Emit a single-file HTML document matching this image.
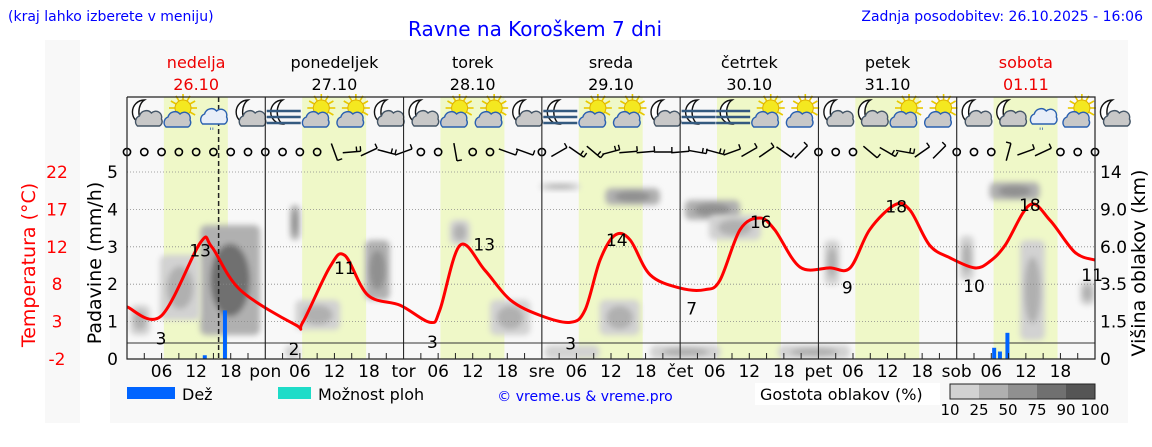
<!DOCTYPE html>
<html><head><meta charset="utf-8">
<style>
html,body{margin:0;padding:0;background:#fff;}
body{width:1152px;height:443px;overflow:hidden;font-family:"DejaVu Sans",sans-serif;}
svg text{font-family:"DejaVu Sans","Liberation Sans",sans-serif;}
</style></head>
<body>
<svg id="chart" width="1152" height="443" xmlns="http://www.w3.org/2000/svg">
<defs>
<filter id="blur" x="-50%" y="-50%" width="200%" height="200%"><feGaussianBlur stdDeviation="3"/></filter>
<clipPath id="plotclip"><rect x="127" y="160" width="968" height="199"/></clipPath>
</defs>
<rect x="45" y="40" width="35" height="383" fill="#f8f8f8"/>
<rect x="110" y="40" width="1018" height="383" fill="#f8f8f8"/>
<text x="8" y="21" font-size="14" fill="#0000ff">(kraj lahko izberete v meniju)</text>
<text x="535" y="36" font-size="20" fill="#0000ff" text-anchor="middle">Ravne na Koroškem 7 dni</text>
<text x="1143" y="21" font-size="14" fill="#0000ff" text-anchor="end">Zadnja posodobitev: 26.10.2025 - 16:06</text>
<g id="days"></g>
<g id="bands"></g>
<g id="clouds" clip-path="url(#plotclip)"></g>
<g id="grid"></g>
<g id="icons"></g>
<g id="wind"></g>
<g id="precip"></g>
<g id="temp"></g>
<g id="axes"></g>
<g id="legend">
<rect x="127" y="387" width="48" height="12" fill="#0064ff"/>
<text x="182" y="400" font-size="16" fill="#000">Dež</text>
<rect x="278" y="387" width="33" height="12" fill="#1edcc8"/>
<text x="318" y="400" font-size="16" fill="#000">Možnost ploh</text>
<text x="585" y="401" font-size="14" fill="#0000ff" text-anchor="middle">© vreme.us &amp; vreme.pro</text>
<rect x="755" y="383" width="185" height="22" fill="#fff"/>
<text x="760" y="400" font-size="16" fill="#000">Gostota oblakov (%)</text>
</g>
</svg>
<script>
// ---- data ----
const dayNames = ["nedelja","ponedeljek","torek","sreda","četrtek","petek","sobota"];
const dayDates = ["26.10","27.10","28.10","29.10","30.10","31.10","01.11"];
const dayAbbr = ["pon","tor","sre","čet","pet","sob"];
const tempHours = [0,5.9,12.7,14.7,19.6,29.2,30.5,35.2,37.8,41.8,47.4,52.6,54.3,57.8,62.1,66.5,71.7,76.9,79.5,82.1,84.7,87.3,90.8,96,100.3,102.9,106.4,109.8,112.4,116.8,122,125.5,128.9,133.3,135.9,139.3,142.8,147.1,149.7,152.4,156.7,160.2,164.5,168];
const tempValues = [4.7,3.5,12.9,12.4,6.9,2.4,2.7,9.8,11.3,6.2,4.9,2.7,4.3,12.6,9.4,5.6,3.6,2.7,4.3,10.7,13.9,13.3,8.8,7.1,6.9,8.1,14.6,16.1,14.6,9.8,9.7,9.7,14.6,17.8,17.1,12.6,11,9.7,10.5,12.6,17.8,15.8,11.7,10.7];
const tempLabelHours = [5.9,12.7,29,37.8,53,62,77,85,98,110,125,133.5,147,156.7,167.5];
const tempLabelTexts = ["3","13","2","11","3","13","3","14","7","16","9","18","10","18","11"];
const tempLabelVals = [0.6,11.9,-0.7,9.7,0.2,12.7,0,13.3,4.5,15.6,7.2,17.6,7.4,17.8,8.8];
const rainHours = [13.5,17,150.5,151.5,152.8];
const rainValues = [0.1,1.3,0.3,0.2,0.7];
const cloudH0 = [12.7,5.7,0.5,28.3,29.2,41.3,56,63,71.7,83,96.8,82,101,121,144.5,149.7,155,165.4,72.5,90.8,113,27.4];
const cloudH1 = [23.1,12.7,4,30,37,45.6,59.5,70,78.6,92.5,106.4,89,110,123.7,147,158.4,159.3,168,82,103,125.5,30];
const cloudU0 = [0.64,1.04,0.64,3.18,0.78,1.58,3.05,0.64,4.52,4.12,3.72,0.64,3.18,1.98,2.1,4.25,0.5,1.44,0,0,0,0];
const cloudU1 = [3.58,2.78,1.44,4.12,1.58,3.18,3.72,1.58,4.7,4.57,4.25,1.58,3.85,3.18,3.3,4.73,3.18,2.1,0.37,0.37,0.37,0.37];
const cloudDensity = [80,40,30,60,40,55,30,35,40,60,60,40,40,40,45,70,35,40,20,45,35,15];
const windSpeed = [0,0,0,0,0,0,0,0,0,0,0,0,2,3,2,3,2,0,0,2,0,0,2,2,0,2,3,3,3,2,2,2,2,3,3,2,2,2,2,2,0,0,0,2,3,3,2,2,0,0,0,2,2,2,0,0,0];
const windAngle = [0,0,0,0,0,0,0,0,0,0,0,0,70,-5,-25,15,-20,0,0,80,0,0,20,20,0,-30,35,40,-15,-5,-5,0,-5,10,15,-20,-30,-35,35,-45,0,0,0,40,30,10,-35,-45,0,0,0,-75,-20,-25,0,0,0];
const iconTypes = ["moon","sun","rain","moon","fog","sun","sun","moon","moon","sun","sun","moon","fog","sun","sun","moon","fog","fog","sun","sun","moon","moon","sun","sun","moon","moon","rain","sun","moon"];
const padTicks = [0,1,2,3,4,5];
const tempTicks = ["22","17","12","8","3","-2"];
const visTicks = ["14","9.0","6.0","3.5","1.5","0"];
const cloudLegendLabels = ["10","25","50","75","90","100"];

// ---- scales ----
const X0=127,X1=1095,PX=(X1-X0)/168;
const xs=h=>X0+h*PX;
const yPad=u=>359-u*37.4;
const yT=t=>359-(t+2)*7.79;
const NS="http://www.w3.org/2000/svg";
function mk(tag,attrs,parent,text){const e=document.createElementNS(NS,tag);for(const k in attrs)e.setAttribute(k,attrs[k]);if(text!==undefined)e.textContent=text;parent.appendChild(e);return e;}
const G=id=>document.getElementById(id);
function dens(d){return d>=90?"#555":d>=75?"#707070":d>=50?"#909090":d>=25?"#b0b0b0":"#d2d2d2";}

for(let i=0;i<7;i++){
  const c=xs(i*24+12),red=(i==0||i==6);
  let t=mk("text",{x:c,y:68,"font-size":16,"text-anchor":"middle",fill:red?"#e00":"#000"},G("days"),dayNames[i]);
  
  t=mk("text",{x:c,y:90,"font-size":16,"text-anchor":"middle",fill:red?"#e00":"#000"},G("days"),dayDates[i]);
  
  const b=mk("rect",{x:xs(i*24+6.4),y:97,width:11.1*PX,height:262,fill:"#eff8c8"},G("bands"));
  
}
for(let i=0;i<cloudH0.length;i++){
  const x0=xs(cloudH0[i]),x1=xs(cloudH1[i]),y0=yPad(cloudU1[i]),y1=yPad(cloudU0[i]);
  const g=mk("g",{filter:"url(#blur)"},G("clouds"));
  
  mk("rect",{x:x0,y:y0,width:x1-x0,height:y1-y0,rx:6,fill:dens(cloudDensity[i]*0.5)},g);
  const w=x1-x0,h=y1-y0;
  mk("ellipse",{cx:(x0+x1)/2,cy:(y0+y1)/2,rx:w*0.33,ry:h*0.33,fill:dens(cloudDensity[i])},g);
}
for(const u of [1,2,3,4,5]){const l=mk("line",{x1:X0,x2:X1,y1:yPad(u),y2:yPad(u),stroke:"#888","stroke-dasharray":"1,2","stroke-width":0.8},G("grid"));}
for(let d=1;d<7;d++){const l=mk("line",{x1:xs(d*24),x2:xs(d*24),y1:97,y2:359,stroke:"#999","stroke-width":1},G("grid"));}
let hl=mk("line",{x1:X0,x2:X1,y1:343,y2:343,stroke:"#333","stroke-width":1},G("grid"));
function cloudShape(g,cx,cy,fill,stroke){
  mk("path",{d:`M${cx-12} ${cy+8} a6 6 0 0 1 2 -10 a7 7 0 0 1 12 -3 a6 6 0 0 1 10 6 a5 5 0 0 1 -2 7 Z`,fill:fill,stroke:stroke,"stroke-width":1.4},g);
}
iconTypes.forEach((tp,i)=>{
  const cx=xs(i*6+3.2),cy=112;
  const g=mk("g",{},G("icons"));
  
  if(tp=="moon"||tp=="fog"){
    const mx=cx-4;
    mk("path",{d:`M${mx+3} ${cy-12} A12 12 0 1 0 ${mx+3} ${cy+12} A9 13 0 0 1 ${mx+3} ${cy-12} Z`,fill:"#fff",stroke:"#111","stroke-width":1.4},g);
    if(tp=="moon") cloudShape(g,cx+4,cy+6,"#c8c8c8","#456");
    else for(const dy of [-1,5,11]) mk("line",{x1:cx-17,x2:cx+17,y1:cy+dy,y2:cy+dy,stroke:"#345a80","stroke-width":2.4},g);
  } else {
    if(tp=="sun"){for(let a=0;a<360;a+=30){const r=a*Math.PI/180;mk("line",{x1:cx+3+8*Math.cos(r),y1:cy-4+8*Math.sin(r),x2:cx+3+14*Math.cos(r),y2:cy-4+14*Math.sin(r),stroke:"#e8c800","stroke-width":1.6},g);}
    mk("circle",{cx:cx+3,cy:cy-4,r:8,fill:"#f4e820",stroke:"#e0b000"},g);
    cloudShape(g,cx-2,cy+7,"#c8c8c8","#2a60b0");}
    else {cloudShape(g,cx,cy+4,"#e8eef8","#2a60b0");mk("text",{x:cx-3,y:cy+22,"font-size":9,fill:"#2a60b0","text-anchor":"middle"},g,"''");}
  }
});
windSpeed.forEach((s,i)=>{
  const x=xs(i*3),y=152;
  let e;
  if(s==0){e=mk("circle",{cx:x,cy:y,r:3.6,fill:"none",stroke:"#000","stroke-width":1.6},G("wind"));}
  else{const a=windAngle[i]*Math.PI/180,L=9;
    e=mk("g",{},G("wind"));
    const x1=x-L*Math.cos(a),y1=y-L*Math.sin(a),x2=x+L*Math.cos(a),y2=y+L*Math.sin(a);
    mk("line",{x1:x1,y1:y1,x2:x2,y2:y2,stroke:"#000","stroke-width":1.5},e);
    for(let k=0;k<s-1;k++){const bx=x2-k*4*Math.cos(a),by=y2-k*4*Math.sin(a);mk("line",{x1:bx,y1:by,x2:bx+5*Math.sin(a),y2:by-5*Math.cos(a),stroke:"#000","stroke-width":1.4},e);}
  }
  
});
rainHours.forEach((h,i)=>{const r=mk("rect",{x:xs(h)-2,y:yPad(rainValues[i]),width:4,height:rainValues[i]*37.4,fill:"#0064ff"},G("precip"));});
let nl=mk("line",{x1:xs(15.9),x2:xs(15.9),y1:97,y2:359,stroke:"#222","stroke-width":1.5,"stroke-dasharray":"5,3"},G("grid"));
const pts=tempHours.map((h,i)=>[xs(h),yT(tempValues[i])]);
let d=`M${pts[0][0]} ${pts[0][1]}`;
for(let i=0;i<pts.length-1;i++){const p0=pts[Math.max(0,i-1)],p1=pts[i],p2=pts[i+1],p3=pts[Math.min(pts.length-1,i+2)];
d+=` C${p1[0]+(p2[0]-p0[0])/6} ${p1[1]+(p2[1]-p0[1])/6} ${p2[0]-(p3[0]-p1[0])/6} ${p2[1]-(p3[1]-p1[1])/6} ${p2[0]} ${p2[1]}`;}
let tl=mk("path",{d:d,fill:"none",stroke:"#f00","stroke-width":3},G("temp"));
tempLabelHours.forEach((h,i)=>{const t=mk("text",{x:xs(h),y:yT(tempLabelVals[i])+6,"font-size":17,"text-anchor":"middle",fill:"#000"},G("temp"),tempLabelTexts[i]);});
const A=G("axes");
let f=mk("path",{d:`M${X0} 97 V359 H${X1} V97 H${X0}`,fill:"none",stroke:"#222","stroke-width":1.2},A);
padTicks.forEach((u,i)=>{let t=mk("text",{x:118,y:yPad(u)+6,"font-size":17,"text-anchor":"end",fill:"#000"},A,String(u));
t=mk("text",{x:57,y:yPad(5-i)+6,"font-size":17,"text-anchor":"middle",fill:"#f00"},A,tempTicks[i]);
t=mk("text",{x:1100,y:yPad(5-i)+6,"font-size":17,fill:"#000"},A,visTicks[i]);});
let at=mk("text",{transform:"translate(35,265) rotate(-90)","font-size":19,"text-anchor":"middle",fill:"#f00"},A,"Temperatura (°C)");
at=mk("text",{transform:"translate(101,263) rotate(-90)","font-size":19,"text-anchor":"middle",fill:"#000"},A,"Padavine (mm/h)");
at=mk("text",{transform:"translate(1145,263) rotate(-90)","font-size":19,"text-anchor":"middle",fill:"#000"},A,"Višina oblakov (km)");
for(let h=3;h<168;h+=3){const tk=mk("line",{x1:xs(h),x2:xs(h),y1:359,y2:h%24==0?97:353,stroke:"#222","stroke-width":1},A);
 if(h%6==0){const lbl=h%24==0?dayAbbr[h/24-1]:String(h%24).padStart(2,"0");const t=mk("text",{x:xs(h),y:377,"font-size":17,"text-anchor":"middle",fill:"#000"},A,lbl);}}
const cols=["#d2d2d2","#b0b0b0","#909090","#707070","#555"];
cols.forEach((c,i)=>{const r=mk("rect",{x:950+i*29,y:384,width:29,height:15,fill:c},G("legend"));});
let bo=mk("rect",{x:950,y:384,width:145,height:15,fill:"none",stroke:"#222"},G("legend"));
cloudLegendLabels.forEach((l,i)=>{const t=mk("text",{x:950+i*29,y:415,"font-size":15,"text-anchor":"middle",fill:"#000"},G("legend"),l);});
</script>
</body></html>
